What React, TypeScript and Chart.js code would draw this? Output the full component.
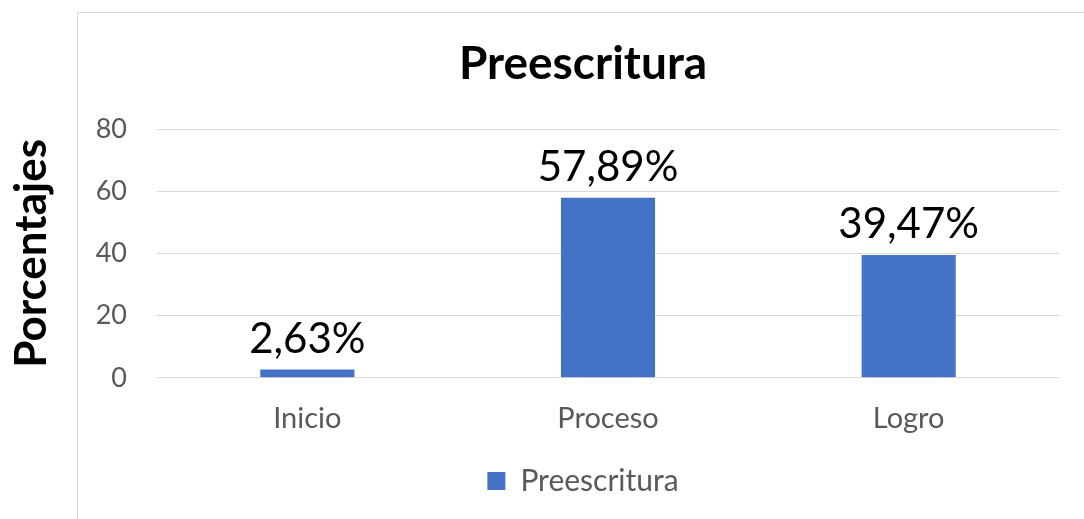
import React, { useEffect, useRef } from "react";
import { Chart, registerables } from "chart.js";

Chart.register(...registerables);

const categories = ["Inicio", "Proceso", "Logro"];
const seriesName = "Preescritura";
const values = [2.63, 57.89, 39.47];
const valueLabels = ["2,63%", "57,89%", "39,47%"];
const yTicks = [0, 20, 40, 60, 80];

const FONT = "Lato, 'Open Sans', sans-serif";

const frame = {
  id: "frame",
  beforeDraw(chart: any) {
    const ctx = chart.ctx;
    ctx.save();
    ctx.fillStyle = "#ffffff";
    ctx.fillRect(0, 0, chart.width, chart.height);
    ctx.strokeStyle = "#d9d9d9";
    ctx.lineWidth = 1;
    ctx.strokeRect(77.5, 12.5, chart.width + 50, chart.height + 50);
    ctx.restore();
  },
};

const dataLabels = {
  id: "dataLabels",
  afterDatasetsDraw(chart: any) {
    const ctx = chart.ctx;
    const meta = chart.getDatasetMeta(0);
    ctx.save();
    ctx.font = `42px ${FONT}`;
    ctx.fillStyle = "#000000";
    ctx.textAlign = "center";
    ctx.textBaseline = "alphabetic";
    meta.data.forEach((bar: any, i: number) => {
      ctx.fillText(valueLabels[i], bar.x, bar.y - 17);
    });
    ctx.restore();
  },
};

export default function App() {
  const ref = useRef<HTMLCanvasElement>(null);
  useEffect(() => {
    if (!ref.current) return;
    const chart = new Chart(ref.current, {
      type: "bar",
      data: {
        labels: categories,
        datasets: [
          {
            label: seriesName,
            data: values,
            backgroundColor: "#4472C4",
            borderWidth: 0,
            barPercentage: 0.313,
            categoryPercentage: 1,
          },
        ],
      },
      options: {
        responsive: false,
        animation: false,
        devicePixelRatio: 1,
        layout: { padding: { left: 0, right: 0, top: 0, bottom: 13 } },
        plugins: {
          tooltip: { enabled: false },
          title: {
            display: true,
            text: seriesName,
            color: "#000000",
            font: { family: FONT, size: 46, weight: "bold" },
            padding: { top: 37, bottom: 36.8 },
          },
          legend: {
            display: true,
            position: "bottom",
            labels: {
              color: "#595959",
              font: { family: FONT, size: 30 },
              boxWidth: 18,
              boxHeight: 18,
              padding: 7.4,
            },
          },
        },
        scales: {
          x: {
            grid: { display: false, drawTicks: false },
            border: { display: false },
            ticks: {
              color: "#595959",
              font: { family: FONT, size: 29 },
              padding: 23,
            },
          },
          y: {
            min: 0,
            max: 80,
            afterBuildTicks: (scale: any) => {
              scale.ticks = yTicks.map((v) => ({ value: v }));
            },
            afterFit: (scale: any) => {
              scale.width = 157;
            },
            grid: { color: "#d9d9d9", lineWidth: 1, drawTicks: false },
            border: { display: false },
            ticks: {
              color: "#595959",
              font: { family: FONT, size: 27 },
              padding: 30,
            },
            title: {
              display: true,
              text: "Porcentajes",
              color: "#000000",
              font: { family: FONT, size: 44, weight: "bold" },
              padding: { top: 5, bottom: 0 },
            },
          },
          yRight: {
            position: "right",
            display: true,
            min: 0,
            max: 80,
            grid: { display: false, drawTicks: false },
            border: { display: false },
            ticks: { display: false },
            afterFit: (scale: any) => {
              scale.width = 107;
            },
          },
        },
      },
      plugins: [frame, dataLabels],
    });
    return () => chart.destroy();
  }, []);

  return (
    <div
      style={{
        position: "fixed",
        left: 0,
        top: 0,
        width: 1084,
        height: 519,
        overflow: "hidden",
        background: "#ffffff",
      }}
    >
      <canvas ref={ref} width={1166} height={519} style={{ display: "block" }} />
    </div>
  );
}
